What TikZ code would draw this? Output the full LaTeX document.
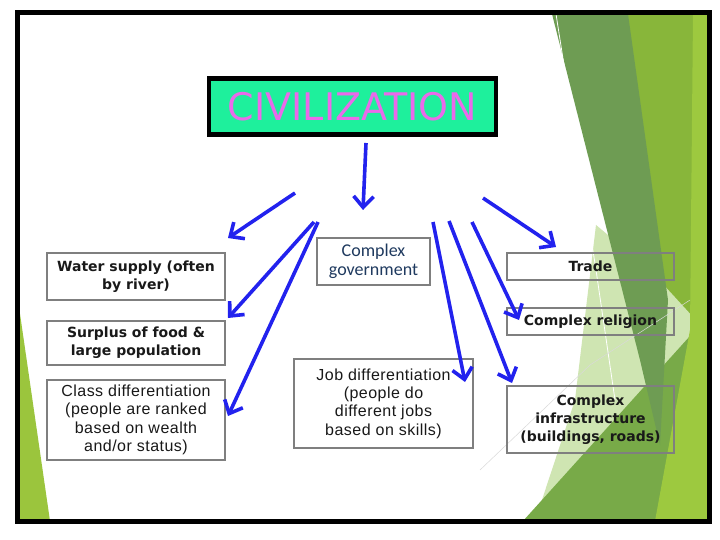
\documentclass[tikz,border=0pt]{standalone}
\usepackage{fontspec}
\setmainfont{Liberation Sans}
\newfontfamily\tahomaf{DejaVu Sans}
\newfontfamily\calibf{Carlito}
\newfontfamily\arialf[LetterSpace=3]{Liberation Sans}
\usetikzlibrary{arrows.meta}
\definecolor{civfill}{HTML}{1EF09C}
\definecolor{civtext}{HTML}{EA6AEA}
\definecolor{arrowblue}{HTML}{2222EE}
\definecolor{boxgray}{HTML}{7F7F7F}
\definecolor{navytext}{HTML}{1F3A5F}
\definecolor{gdark}{HTML}{6E9C53}
\definecolor{gyellow}{HTML}{88B63A}
\definecolor{gbright}{HTML}{9DC93F}
\definecolor{gmed}{HTML}{78AA48}
\definecolor{gpale}{HTML}{CFE5B2}
\definecolor{gleft}{HTML}{9BC53D}
\tikzset{
  box/.style={draw=boxgray, line width=1.1pt, align=center, inner sep=0pt, text=black!90},
  boldtxt/.style={font=\tahomaf\bfseries\fontsize{14}{18}\selectfont},
  arialtxt/.style={font=\arialf\fontsize{16}{18.3}\selectfont},
  arr/.style={draw=arrowblue, line width=3.6pt, -{Straight Barb[length=11pt,width=20pt]}}
}
\begin{document}
\begin{tikzpicture}[x=1pt,y=-1pt]
\useasboundingbox (0,0) rectangle (720,540);
\fill[white] (0,0) rectangle (720,540);
% background decoration
\fill[gyellow] (628,14) -- (708,14) -- (708,521) -- (600,521) -- (640,300) -- cycle;
\fill[gpale] (596,225) -- (650,270) -- (705,330) -- (660,521) -- (535,521) -- (575,400) -- cycle;
\fill[gmed] (523,521) -- (690,336) -- (708,330) -- (708,521) -- cycle;
\fill[gbright] (693,14) -- (708,14) -- (708,521) -- (655,521) -- (690,330) -- cycle;
\fill[gdark] (552,14) -- (628,14) -- (668,300) -- (660,445) -- (640,360) -- cycle;
\draw[white, line width=0.8pt] (556,14) -- (596,270) -- (615,400);
\draw[black!15, line width=0.5pt] (480,470) -- (590,365) -- (690,300);
\fill[gleft] (18,300) -- (18,521) -- (50,521) -- cycle;
% frame
\draw[line width=5pt] (17.5,12.5) rectangle (709.5,521.5);
% title
\node[draw=black, line width=4.5pt, fill=civfill, minimum width=287pt, minimum height=56pt,
      text=civtext, font=\tahomaf\fontsize{38}{40}\selectfont, inner sep=0pt] (civ) at (352.5,106.5) {CIVILIZATION};
% boxes
\node[box, boldtxt, minimum width=178pt, minimum height=47pt] (water) at (136,276.5) {Water supply (often\\by river)};
\node[box, boldtxt, minimum width=178pt, minimum height=44pt] (surplus) at (136,343) {Surplus of food \&\\large population};
\node[box, arialtxt, minimum width=178pt, minimum height=80pt] (class) at (136,420) {Class differentiation\\(people are ranked\\based on wealth\\and/or status)};
\node[box, font=\calibf\fontsize{18}{18.5}\selectfont, text=navytext, minimum width=113pt, minimum height=47pt] (gov) at (373.5,261.5) {Complex\\government};
\node[box, arialtxt, minimum width=179pt, minimum height=89pt] (job) at (383.5,403.5) {Job differentiation\\(people do\\different jobs\\based on skills)};
\node[box, boldtxt, minimum width=167pt, minimum height=27pt] (trade) at (590.5,266.5) {Trade};
\node[box, boldtxt, minimum width=167pt, minimum height=27pt] (religion) at (590.5,321.5) {Complex religion};
\node[box, boldtxt, minimum width=167pt, minimum height=67pt] (infra) at (590.5,419.5) {Complex\\infrastructure\\(buildings, roads)};
% arrow coordinates
\coordinate (s1) at (366,143);  \coordinate (e1) at (363,210);
\coordinate (s2) at (295,193);  \coordinate (e2) at (228,238);
\coordinate (s3) at (314,222);  \coordinate (e3) at (228,318);
\coordinate (s4) at (318,222);  \coordinate (e4) at (228,416);
\coordinate (s5) at (483,198);  \coordinate (e5) at (556,247);
\coordinate (s6) at (433,222);  \coordinate (e6) at (465,382);
\coordinate (s7) at (449,221);  \coordinate (e7) at (512,383);
\coordinate (s8) at (472,222);  \coordinate (e8) at (519,320);
\draw[arr] (s1) -- (e1);
\draw[arr] (s2) -- (e2);
\draw[arr] (s3) -- (e3);
\draw[arr] (s4) -- (e4);
\draw[arr] (s5) -- (e5);
\draw[arr] (s6) -- (e6);
\draw[arr] (s7) -- (e7);
\draw[arr] (s8) -- (e8);
\end{tikzpicture}
\end{document}
